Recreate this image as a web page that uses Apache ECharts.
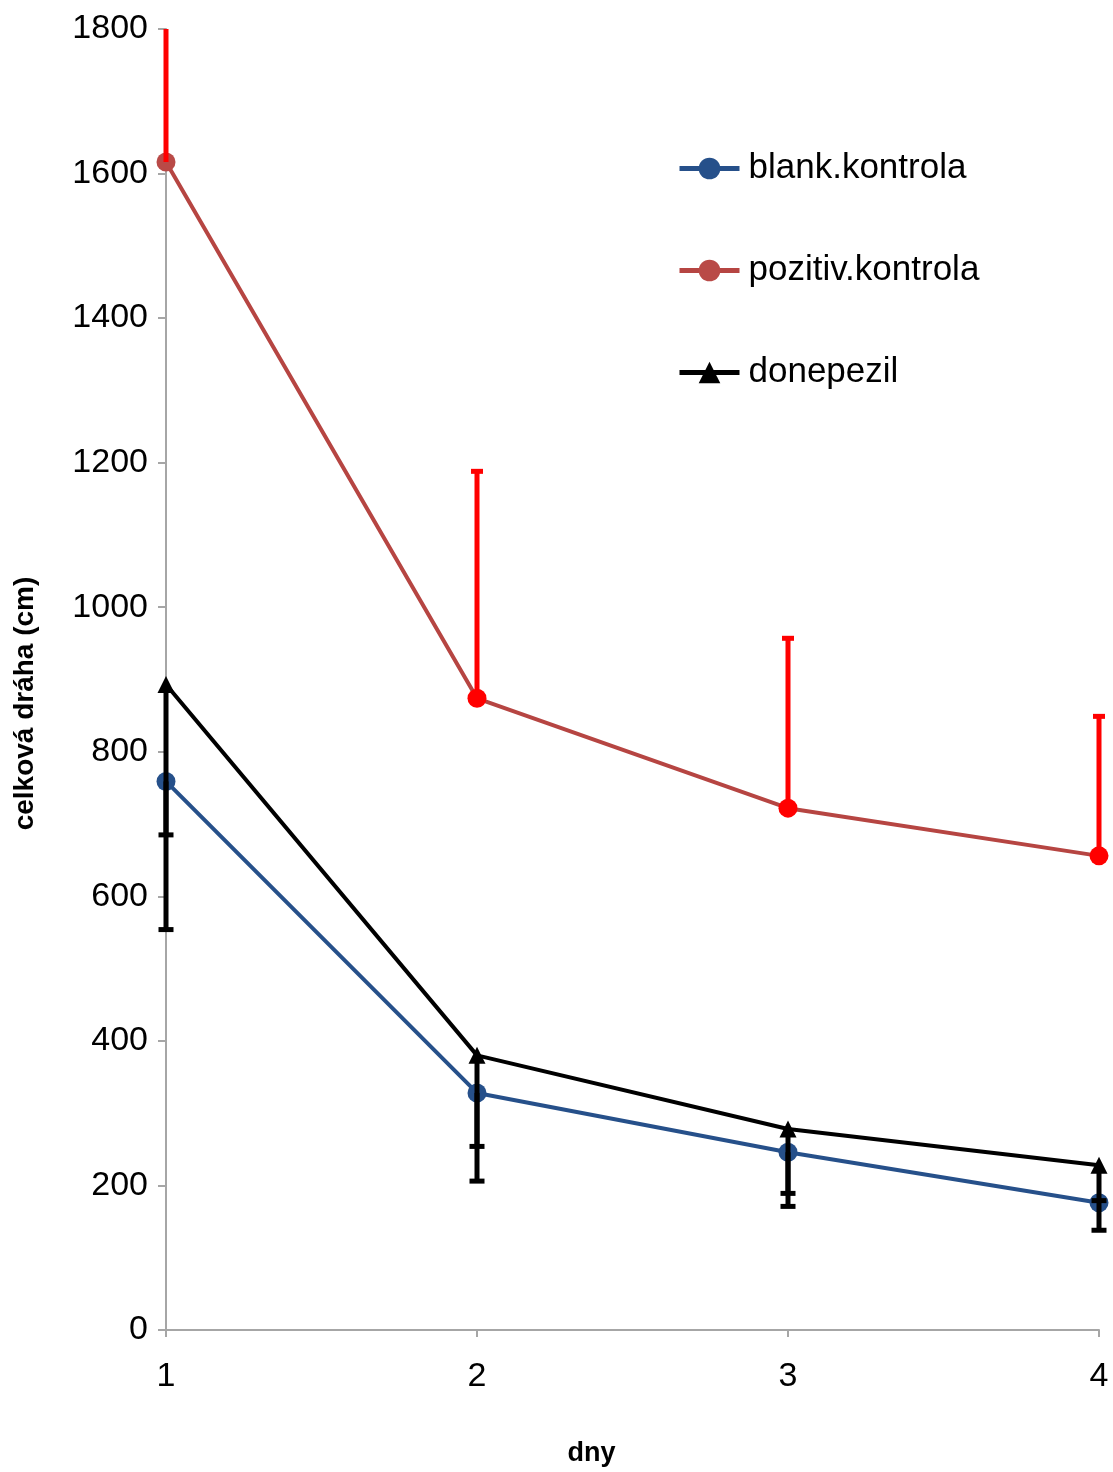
<!DOCTYPE html>
<html>
<head>
<meta charset="utf-8">
<script src="https://cdn.jsdelivr.net/npm/echarts@6/dist/echarts.min.js"></script>
<style>
  html, body { margin: 0; padding: 0; background: #fff; }
  #chart { width: 1113px; height: 1472px; }
</style>
</head>
<body>
<div id="chart"></div>
<script>
// dny
var days = ['1', '2', '3', '4'];
// prumerne hodnoty
var blank = [759, 328, 246, 176];
var pozitiv = [1616, 874, 722, 656];
var donepezil = [893, 380, 278, 228];
// konce chybovych usecek
var blankLow = [685, 254, 189, 179];
var donepezilLow = [554, 206, 171, 138];
var pozitivHigh = [1900, 1188, 957, 849];
var yTicks = [0, 200, 400, 600, 800, 1000, 1200, 1400, 1600, 1800];
var yMax = 1800;

var font = '"Liberation Sans", Arial, sans-serif';

var myChart = echarts.init(document.getElementById('chart'));

// chybova usecka, nad max osy se orizne (bez koncove carky)
function errBar(color, lw, capW) {
    return function (params, api) {
        var x = api.value(0);
        var end = api.value(2);
        var cut = end > yMax;
        if (cut) end = yMax;
        var p0 = api.coord([x, api.value(1)]);
        var p1 = api.coord([x, end]);
        var style = {stroke: color, lineWidth: lw, fill: null};
        var kids = [
            {type: 'line', shape: {x1: p0[0], y1: p0[1], x2: p1[0], y2: p1[1]}, style: style}
        ];
        if (!cut) {
            kids.push({type: 'line', shape: {x1: p1[0] - capW / 2, y1: p1[1], x2: p1[0] + capW / 2, y2: p1[1]}, style: style});
        }
        return {type: 'group', children: kids};
    };
}

var pozitivData = pozitiv.map(function (v, i) {
    return {value: v, itemStyle: {color: i === 0 ? '#B94A47' : '#FF0000'}};
});

var option = {
    backgroundColor: '#fff',
    animation: false,
    grid: {left: 166, right: 14, top: 29, bottom: 140},
    legend: {
        orient: 'vertical',
        left: 672,
        top: 146,
        itemWidth: 60,
        itemHeight: 27,
        itemGap: 67,
        lineStyle: {width: 5},
        data: ['blank.kontrola', 'pozitiv.kontrola', 'donepezil'],
        textStyle: {
            fontFamily: font,
            fontSize: 35,
            color: '#000',
            padding: [0, 0, 0, 4]
        }
    },
    xAxis: {
        type: 'category',
        data: days,
        boundaryGap: false,
        name: 'dny',
        nameLocation: 'middle',
        nameGap: 110,
        nameTextStyle: {fontFamily: font, fontWeight: 'bold', fontSize: 27, color: '#000', padding: [0, 82, 0, 0]},
        axisLine: {lineStyle: {color: '#A6A6A6', width: 2}},
        axisTick: {alignWithLabel: true, length: 7, lineStyle: {color: '#A6A6A6', width: 2}},
        axisLabel: {fontFamily: font, fontSize: 34, color: '#000', margin: 30},
        splitLine: {show: false}
    },
    yAxis: {
        type: 'value',
        min: 0,
        max: yMax,
        interval: 200,
        name: 'celková dráha (cm)',
        nameLocation: 'middle',
        nameGap: 127,
        nameTextStyle: {fontFamily: font, fontWeight: 'bold', fontSize: 28, color: '#000', padding: [0, 48, 0, 0]},
        axisLine: {show: true, lineStyle: {color: '#A6A6A6', width: 2}},
        axisTick: {show: true, length: 8, lineStyle: {color: '#A6A6A6', width: 2}},
        axisLabel: {
            fontFamily: font, fontSize: 34, color: '#000', margin: 18,
            formatter: function (v) { return yTicks.indexOf(v) >= 0 ? String(v) : ''; }
        },
        splitLine: {show: false}
    },
    series: [
        {
            name: 'blank.kontrola',
            type: 'line',
            data: blank,
            symbol: 'circle',
            symbolSize: 19,
            color: '#26508A',
            lineStyle: {width: 4, color: '#26508A'},
            itemStyle: {color: '#26508A'},
            z: 2
        },
        {
            name: 'pozitiv.kontrola',
            type: 'line',
            data: pozitivData,
            symbol: 'circle',
            symbolSize: 19,
            color: '#B94A47',
            lineStyle: {width: 4, color: '#B64542'},
            itemStyle: {color: '#B94A47'},
            z: 2
        },
        {
            name: 'donepezil',
            type: 'line',
            data: donepezil,
            symbol: 'triangle',
            symbolSize: 17,
            color: '#000',
            lineStyle: {width: 4, color: '#000'},
            itemStyle: {color: '#000'},
            z: 3
        },
        {
            type: 'custom',
            clip: false,
            z: 4,
            renderItem: errBar('#FF0000', 5, 12),
            data: pozitiv.map(function (v, i) { return [i, v, pozitivHigh[i]]; })
        },
        {
            type: 'custom',
            clip: false,
            z: 4,
            renderItem: errBar('#000', 5, 15),
            data: donepezil.map(function (v, i) { return [i, v, donepezilLow[i]]; })
        },
        {
            type: 'custom',
            clip: false,
            z: 4,
            renderItem: errBar('#000', 5, 15),
            data: blank.map(function (v, i) { return [i, v, blankLow[i]]; })
        }
    ]
};

myChart.setOption(option);
</script>
</body>
</html>
